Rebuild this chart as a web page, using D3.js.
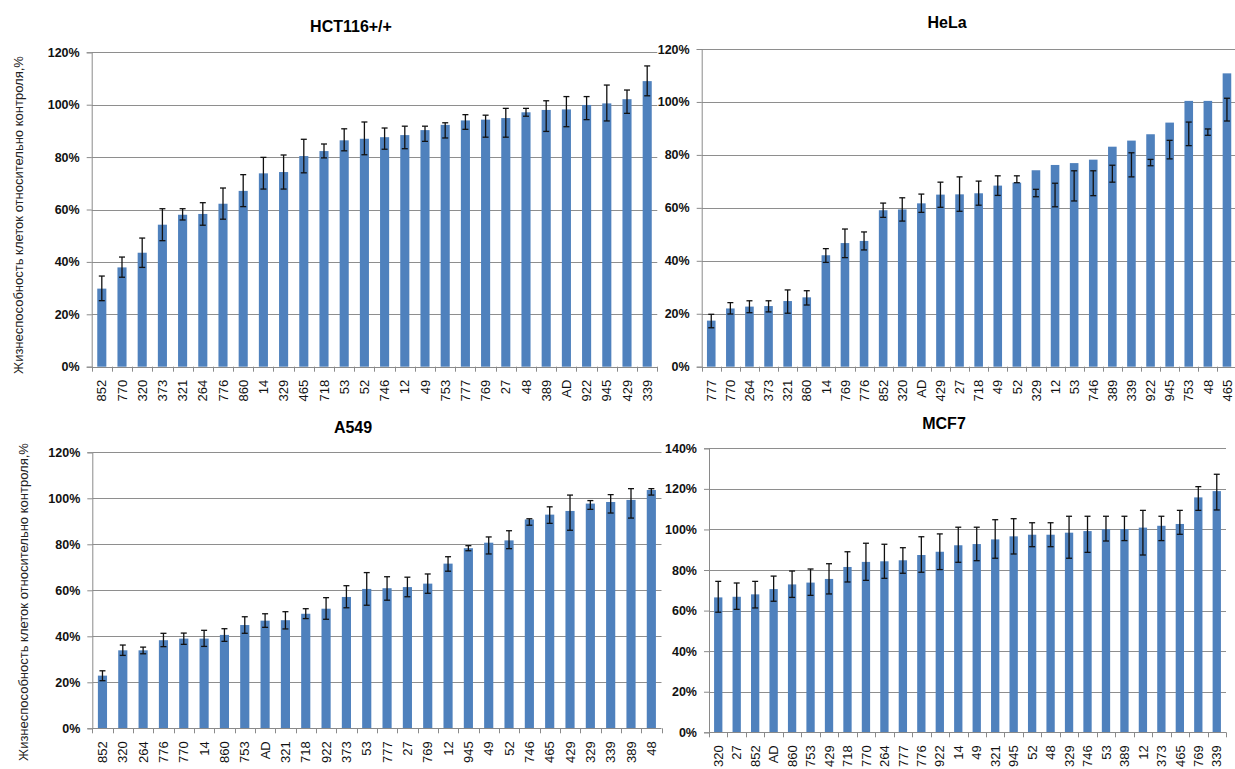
<!DOCTYPE html>
<html>
<head>
<meta charset="utf-8">
<script src="https://cdn.jsdelivr.net/npm/d3@7"></script>
<style>
  html, body { margin: 0; padding: 0; background: #fff; }
  svg { display: block; }
  text { font-family: "Liberation Sans", Arial, sans-serif; }
</style>
</head>
<body>
<svg id="chart" width="1235" height="769"></svg>
<script>
// Viability of cells relative to control, four cell lines.
// Each line: compound codes (sorted by viability), mean %, error-bar centre %, error half-width %.

const hctCats = ["852","770","320","373","321","264","776","860","14","329","465","718","53","52","746","12","49","753","777","769","27","48","389","AD","922","945","429","339"];
const hctVals = [29.8,37.9,43.5,54.2,58.0,58.3,62.2,67.1,73.8,74.3,80.4,82.3,86.4,87.0,87.6,88.4,90.3,92.3,94.0,94.3,94.9,97.1,98.0,98.2,99.9,100.5,102.1,109.0];
const hctMid  = [29.9,38.0,43.5,54.2,58.15,58.3,62.25,67.2,73.85,74.3,80.4,82.35,86.6,87.15,87.05,87.5,88.9,90.2,93.4,91.8,93.1,97.1,95.65,97.35,98.7,100.65,101.15,109.1];
const hctErr  = [4.7,3.85,5.6,6.1,2.15,4.3,5.95,6.1,6.05,6.5,6.4,2.65,4.2,6.25,4.05,4.3,2.9,2.9,2.8,4.2,5.5,1.5,5.85,5.75,4.4,6.85,4.45,5.7];

const helaCats = ["777","770","264","373","321","860","14","769","776","852","320","AD","429","27","718","49","52","329","12","53","746","389","339","922","945","753","48","465"];
const helaVals = [17.4,22.0,22.7,22.9,24.8,26.2,42.1,46.7,47.5,59.1,59.4,61.7,65.0,65.1,65.5,68.4,69.5,74.2,76.2,76.9,78.2,83.1,85.4,87.8,92.2,100.4,100.4,110.8];
const helaMid  = [17.25,22.05,22.65,22.8,24.6,26.0,42.0,46.6,47.5,59.1,59.4,61.75,64.95,65.2,65.55,68.4,70.8,65.6,64.85,68.3,69.3,72.9,76.25,77.1,82.0,87.95,88.6,97.1];
const helaErr  = [2.55,2.15,2.25,2.1,4.4,2.7,2.6,5.4,3.4,2.7,4.4,3.45,4.75,6.5,4.55,3.7,1.3,1.4,4.45,5.7,4.7,3.2,4.55,1.2,3.5,4.45,1.2,4.3];

const a549Cats = ["852","320","264","776","770","14","860","753","AD","321","718","922","373","53","777","27","769","12","945","49","52","746","465","429","329","339","389","48"];
const a549Vals = [22.9,33.9,33.9,38.3,39.0,39.0,40.6,44.9,46.8,47.0,49.8,52.0,57.1,60.6,60.9,61.4,62.9,71.6,78.3,80.7,81.7,90.8,92.9,94.5,97.7,98.4,99.3,103.6];
const a549Mid  = [22.85,33.95,33.85,38.4,38.95,39.1,40.55,44.9,46.85,46.95,49.85,52.1,57.2,60.6,60.8,61.45,62.9,71.45,78.3,79.5,82.0,89.7,92.7,93.75,97.1,97.6,97.8,102.8];
const a549Err  = [2.15,2.25,1.45,2.9,2.45,3.5,2.75,3.6,2.95,3.75,2.15,4.7,4.8,7.1,5.1,4.25,4.2,3.15,1.1,3.7,3.9,1.4,3.6,7.65,1.9,4.0,6.4,1.4];

const mcf7Cats = ["320","27","852","AD","860","753","429","718","770","264","777","776","922","14","49","321","945","52","48","329","746","53","389","12","373","465","769","339"];
const mcf7Vals = [66.5,66.8,68.0,70.6,72.9,73.8,75.6,81.5,84.0,84.3,84.8,87.4,89.0,92.2,92.8,95.1,96.6,97.4,97.4,98.4,99.2,100.1,100.2,100.9,101.8,102.7,115.8,118.9];
const mcf7Mid  = [66.8,67.1,67.85,70.8,73.0,74.0,75.65,81.55,84.05,84.3,84.7,87.65,89.0,92.45,92.85,95.3,96.6,97.4,97.4,96.15,97.6,100.4,100.5,98.4,100.5,103.5,115.25,118.4];
const mcf7Err  = [7.6,6.5,6.55,6.2,6.5,6.5,7.45,7.45,9.15,8.4,6.3,8.75,8.8,8.65,8.25,9.5,8.7,5.9,5.9,10.35,8.9,6.1,6.0,11.0,6.0,5.9,5.85,8.8];

const yTicks120 = [0, 20, 40, 60, 80, 100, 120];
const yTicks140 = [0, 20, 40, 60, 80, 100, 120, 140];

const yTitle = "Жизнеспособность клеток относительно контроля,%";

const BAR = "#4f81bd";
const GRID = "#8e8e8e";
const AXIS = "#8a8a8a";

const svg = d3.select("#chart");

const panels = [
  { title: "HCT116+/+", cats: hctCats, vals: hctVals, mid: hctMid, err: hctErr, ticks: yTicks120,
    box: { left: 91.7, right: 657.3, top: 52.3, bottom: 366.7 }, titleX: 351, titleY: 32,
    yLabel: { x: 18, y: 215 } },
  { title: "HeLa", cats: helaCats, vals: helaVals, mid: helaMid, err: helaErr, ticks: yTicks120,
    box: { left: 701.7, right: 1236.5, top: 49, bottom: 366.7 }, titleX: 947, titleY: 28 },
  { title: "A549", cats: a549Cats, vals: a549Vals, mid: a549Mid, err: a549Err, ticks: yTicks120,
    box: { left: 92.3, right: 661.5, top: 452.3, bottom: 728.3 }, titleX: 353, titleY: 433,
    yLabel: { x: 23, y: 602 } },
  { title: "MCF7", cats: mcf7Cats, vals: mcf7Vals, mid: mcf7Mid, err: mcf7Err, ticks: yTicks140,
    box: { left: 709, right: 1226, top: 448.3, bottom: 732.3 }, titleX: 944, titleY: 429 }
];

panels.forEach(p => {
  const b = p.box;
  const g = svg.append("g");

  const x = d3.scaleBand()
    .domain(p.cats)
    .range([b.left, b.right])
    .paddingInner(0.55)
    .paddingOuter(0.275);

  const y = d3.scaleLinear()
    .domain([0, d3.max(p.ticks)])
    .range([b.bottom, b.top]);

  // horizontal gridlines
  g.append("g").selectAll("line")
    .data(p.ticks.filter(t => t > 0))
    .join("line")
    .attr("x1", b.left).attr("x2", b.right)
    .attr("y1", d => Math.round(y(d)) + 0.5).attr("y2", d => Math.round(y(d)) + 0.5)
    .attr("stroke", GRID).attr("stroke-width", 1);

  // y axis with percent labels
  const yAxis = d3.axisLeft(y)
    .tickValues(p.ticks)
    .tickFormat(d => d + "%")
    .tickSize(5)
    .tickPadding(7);
  const ya = g.append("g").attr("transform", `translate(${b.left},0)`).call(yAxis);
  ya.select(".domain").attr("stroke", AXIS);
  ya.selectAll(".tick line").attr("stroke", AXIS);
  ya.selectAll(".tick text")
    .attr("fill", "#111")
    .style("font-size", "12.5px")
    .style("font-weight", "bold")
    .style("font-family", "'Liberation Sans', Arial, sans-serif");

  // bars
  g.append("g").selectAll("rect")
    .data(p.cats)
    .join("rect")
    .attr("x", d => x(d))
    .attr("width", x.bandwidth())
    .attr("y", (d, i) => y(p.vals[i]))
    .attr("height", (d, i) => y(0) - y(p.vals[i]))
    .attr("fill", BAR);

  // x axis line and category boundary ticks
  g.append("line")
    .attr("x1", b.left).attr("x2", b.right)
    .attr("y1", Math.round(y(0)) + 0.5).attr("y2", Math.round(y(0)) + 0.5)
    .attr("stroke", AXIS);
  const bounds = p.cats.map(c => x(c) + x.bandwidth() / 2 - x.step() / 2)
    .concat([x(p.cats[p.cats.length - 1]) + x.bandwidth() / 2 + x.step() / 2]);
  g.append("g").selectAll("line")
    .data(bounds)
    .join("line")
    .attr("x1", d => Math.round(d) + 0.5).attr("x2", d => Math.round(d) + 0.5)
    .attr("y1", y(0)).attr("y2", y(0) + 5)
    .attr("stroke", AXIS);

  // error bars
  const eb = g.append("g").attr("stroke", "#111").attr("stroke-width", 1.3).attr("fill", "none");
  p.cats.forEach((c, i) => {
    const cx = x(c) + x.bandwidth() / 2;
    const hi = y(p.mid[i] + p.err[i]);
    const lo = y(p.mid[i] - p.err[i]);
    eb.append("line").attr("x1", cx).attr("x2", cx).attr("y1", hi).attr("y2", lo);
    eb.append("line").attr("x1", cx - 3).attr("x2", cx + 3).attr("y1", hi).attr("y2", hi);
    eb.append("line").attr("x1", cx - 3).attr("x2", cx + 3).attr("y1", lo).attr("y2", lo);
  });

  // rotated category labels
  g.append("g").selectAll("text")
    .data(p.cats)
    .join("text")
    .attr("transform", d => `translate(${x(d) + x.bandwidth() / 2},${y(0) + 13}) rotate(-90)`)
    .attr("text-anchor", "end")
    .attr("dy", "0.36em")
    .attr("fill", "#111")
    .style("font-size", "13px")
    .text(d => d);

  // panel title
  g.append("text")
    .attr("x", p.titleX).attr("y", p.titleY)
    .attr("text-anchor", "middle")
    .attr("fill", "#000")
    .style("font-size", "16px")
    .style("font-weight", "bold")
    .text(p.title);

  // vertical axis title
  if (p.yLabel) {
    g.append("text")
      .attr("transform", `translate(${p.yLabel.x},${p.yLabel.y}) rotate(-90)`)
      .attr("text-anchor", "middle")
      .attr("dy", "0.35em")
      .attr("fill", "#222")
      .style("font-size", "13px")
      .text(yTitle);
  }
});
</script>
</body>
</html>
